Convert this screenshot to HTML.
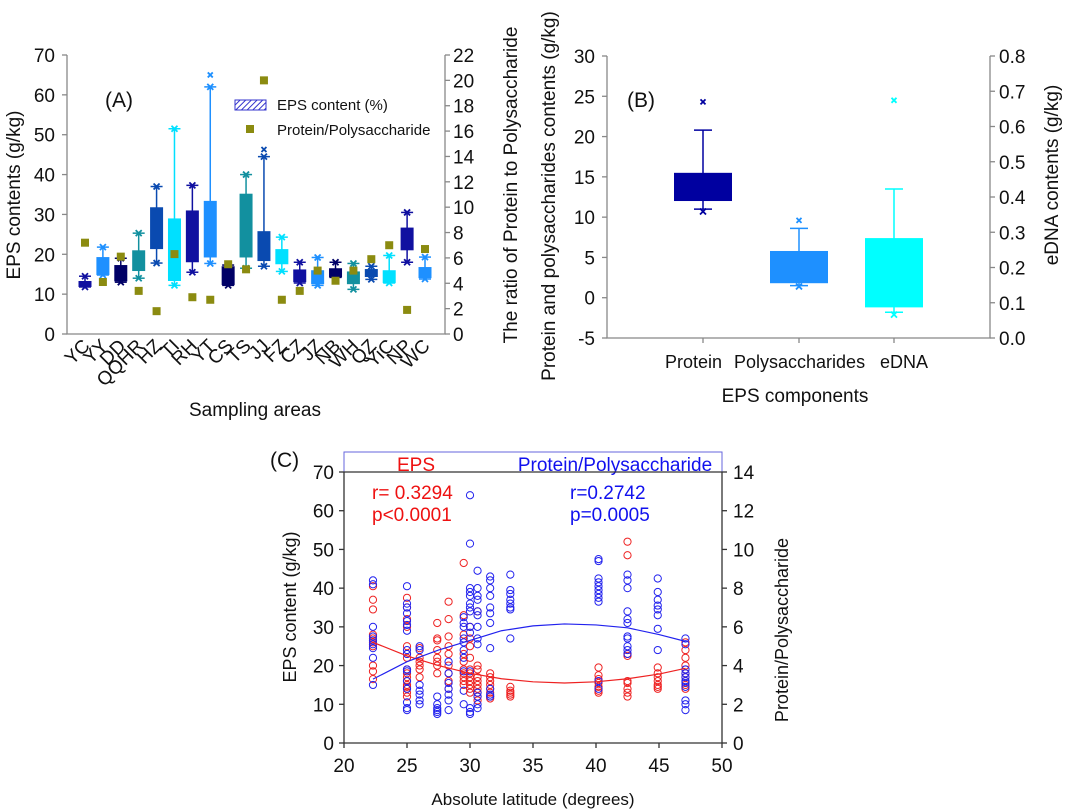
<!DOCTYPE html>
<html><head><meta charset="utf-8"><style>
body{margin:0;background:#fff}
svg{display:block;font-family:"Liberation Sans",Arial,sans-serif}
</style></head><body>
<svg id="fig" width="1080" height="811" viewBox="0 0 1080 811" xmlns="http://www.w3.org/2000/svg">
<defs><pattern id="hatch" width="4" height="4" patternUnits="userSpaceOnUse" patternTransform="rotate(45)"><rect width="4" height="4" fill="#fff"/><line x1="0" y1="0" x2="0" y2="4" stroke="#3333cc" stroke-width="2"/></pattern></defs>
</svg>
<script>
// ---------- Panel A data ----------
const aCats=["YC","YY","DD","QQHR","HZ","TI","RH","YT","CS","TS","JJ","FZ","CZ","JZ","NB","WH","QZ","YiC","NP","WC"];
const aQ1=[11.8,14.8,13.2,15.8,21.3,13.3,18,19.2,12.3,19.2,18.3,17.5,13,12.5,14.2,12.5,14.3,12.8,21,14];
const aQ3=[13.3,19.3,17.3,21,31.8,29,31,33.4,17,35.2,25.8,21.3,16.2,16,16.5,15.7,16.3,16,26.7,16.8];
const aLo=[11.8,14.8,13,14,17.8,12.2,15.5,17.7,12.2,16.5,17,15.7,12.8,12.2,14.2,11.2,13.7,12.8,18,13.8];
const aHi=[14.5,21.8,19,25.3,37,51.5,37.3,62,17.3,40,44.5,24.3,18,19.2,18,17.7,17,19.7,30.5,19.3];
const aOut=[null,null,null,null,null,null,null,65,null,null,46.3,null,null,null,null,null,null,null,null,null];
const aRatio=[7.2,4.1,6.1,3.4,1.8,6.3,2.9,2.7,5.5,5.1,20,2.7,3.4,5,4.2,5,5.9,7,1.9,6.7];
const aColors=["#1010a0","#1e90ff","#000066","#12909f","#0a4ab0","#00e0ff"];
const aYTicks=[0,10,20,30,40,50,60,70];
const aY2Ticks=[0,2,4,6,8,10,12,14,16,18,20,22];
// ---------- Panel B data ----------
const bCats=["Protein","Polysaccharides","eDNA"];
const bQ1=[12,1.8,-1.2],bQ3=[15.5,5.8,7.4],bLo=[11,1.5,-1.8],bHi=[20.8,8.6,13.5],bOut=[24.3,9.6,24.5],bMin=[10.7,1.4,-2.1];
const bColors=["#0000a0","#1e90ff","#00ffff"];
const bYTicks=[-5,0,5,10,15,20,25,30];
const bY2Ticks=["0.0","0.1","0.2","0.3","0.4","0.5","0.6","0.7","0.8"];
// ---------- Panel C data ----------
const cLat=[22.3,25,26,27.4,28.3,29.5,30,30.6,31.6,33.2,40.2,42.5,44.9,47.1];
const cEPS=[[40.5,37,34.5,28,27,26,25,20,18.5,16.5],[37.5,35,32,30,25,23,22,19,18,17,16,15,14.5,14,13,12],[24.5,22,21,20,19,17],[31,27,26.5,24,22,21,20,18],[36.5,32,27.5,25,23,20,18,16,14],[46.5,33,28,23,21,19,18,17,16,15],[30,27,25,22,19,18,17,16,15,14,13],[34,20,19,17,16,15,14,13,12,11],[18,17,16,15,14,13,12,11.5],[14.5,13.5,13,12.5,12],[19.5,17.5,16.5,15.5,14.5,13.5,13],[52,48.5,23,22.5,16,15.5,14,13,12],[19.5,18,17,16,15,14.5,14],[26,24,22,20,19,18,17,16,15,14]];
const cRatio=[[8.4,8.2,6,5.5,5.3,5.1,4.9,4.4,3],[8.1,7.2,7,6.7,6.3,6.1,5.8,4.8,4.6,3.8,3.7,3.2,2.8,2.1,1.8,1.7],[5,4.8,3,2.7,2.5,2.2,2],[2.4,2,1.8,1.7,1.6,1.5],[4.2,3.6,3.1,2.8,2.5,2.2,1.7],[6.5,6.2,6,5.4,5.2,4.8,4.4,3.7,2.7,2],[12.8,10.3,8,7.8,7.6,7.2,7,6.8,6,5.7,3.7,1.8,1.6,1.5],[8.9,8,7.6,7.4,6.8,6.6,6,5.4,5.1,2.6,2.4,2,1.8],[8.6,8.4,8,7.6,7,6.7,6.2,4.9,2.8,2.5,2.4],[8.7,7.9,7.7,7.4,7.2,7,6.9,5.4],[9.5,9.4,8.5,8.3,8.1,7.9,7.7,7.5,7.3,3.2,2.8],[8.7,8.4,8,6.8,6.4,6.2,5.5,5.4,5,4.8,4.6],[8.5,7.8,7.4,7.1,6.9,6.6,5.9,4.8],[5.4,5.1,3.8,3.6,3.4,3.2,3.1,2.9,2.2,2,1.7]];
const fitLat=[22.3,25,27.5,30,32.5,35,37.5,40,42.5,45,47.1];
const fitEPS=[26,22.5,20,18,16.6,15.8,15.5,15.8,16.6,17.8,19.3];
const fitRatio=[3.3,4.2,4.8,5.3,5.8,6.05,6.15,6.1,5.95,5.6,5.25];
const cXTicks=[20,25,30,35,40,45,50];
const cYTicks=[0,10,20,30,40,50,60,70];
const cY2Ticks=[0,2,4,6,8,10,12,14];

const svg=document.getElementById('fig');
const NS="http://www.w3.org/2000/svg";
const TK=19, TT=19;
function mk(tag,attrs,parent){const e=document.createElementNS(NS,tag);for(const k in attrs)e.setAttribute(k,attrs[k]);(parent||svg).appendChild(e);return e;}
function txt(s,x,y,size,attrs,parent){const e=mk('text',Object.assign({x:x,y:y,'font-size':size,fill:'#111'},attrs||{}),parent);e.textContent=s;return e;}
function line(x1,y1,x2,y2,c,w,parent){return mk('line',{x1:x1,y1:y1,x2:x2,y2:y2,stroke:c,'stroke-width':w||1},parent);}
function xmark(x,y,c,s,parent){const g=mk('g',{},parent);line(x-s,y-s,x+s,y+s,c,1.8,g);line(x-s,y+s,x+s,y-s,c,1.8,g);return g;}

// ===== Panel A =====
const A={l:67,r:445,t:55,b:334};
const ay=v=>A.b-(v/70)*(A.b-A.t);
const ay2=v=>A.b-(v/22)*(A.b-A.t);
const ax=i=>85+i*(340/19);
const gA=mk('g',{});


mk('path',{d:`M${A.l} ${A.t}V${A.b}H${A.r}V${A.t}`,fill:'none',stroke:'#888','stroke-width':1.3},gA);
aYTicks.forEach(v=>{line(A.l-5,ay(v),A.l,ay(v),'#888',1.3,gA);const t=txt(String(v),A.l-12,ay(v)+7,TK,{'text-anchor':'end'},gA);});
aY2Ticks.forEach(v=>{line(A.r,ay2(v),A.r+5,ay2(v),'#888',1.3,gA);const t=txt(String(v),A.r+8,ay2(v)+7,TK,{},gA);});
aCats.forEach((c,i)=>{
  const x=ax(i),col=aColors[i%6];
  const g=mk('g',{},gA);
  
  
  line(x,ay(aLo[i]),x,ay(aHi[i]),col,1.5,g);
  line(x-6,ay(aHi[i]),x+6,ay(aHi[i]),col,1.5,g);
  line(x-6,ay(aLo[i]),x+6,ay(aLo[i]),col,1.5,g);
  xmark(x,ay(aHi[i]),col,3,g);xmark(x,ay(aLo[i]),col,3,g);
  mk('rect',{x:x-6.5,y:ay(aQ3[i]),width:13,height:ay(aQ1[i])-ay(aQ3[i]),fill:col},g);
  if(aOut[i]!==null)xmark(x,ay(aOut[i]),col,2.5,g);
  const sq=mk('rect',{x:x-4,y:ay2(aRatio[i])-4,width:8,height:8,fill:'#8b8b10'},gA);
  
  
  const t=txt(c,x+6,347,TK,{'text-anchor':'end',transform:`rotate(-45 ${x+6} 347)`},gA);
  
});
let t;
t=txt('(A)',105,107,21,{},gA);
const lg=mk('g',{},gA);
mk('rect',{x:235,y:100,width:31,height:10,fill:'url(#hatch)',stroke:'#3333cc'},lg);
txt('EPS content (%)',277,110,15,{},lg);
mk('rect',{x:246,y:125,width:8,height:8,fill:'#8b8b10'},lg);
txt('Protein/Polysaccharide',277,135,15,{},lg);
t=txt('EPS contents (g/kg)',20,195,TT,{'text-anchor':'middle',transform:'rotate(-90 20 195)'},gA);
t=txt('The ratio of Protein to Polysaccharide',517,185,TT,{'text-anchor':'middle',transform:'rotate(-90 517 185)'},gA);
t=txt('Sampling areas',255,416,TT,{'text-anchor':'middle'},gA);

// ===== Panel B =====
const B={l:607,r:990,t:56,b:338};
const by=v=>B.b-((v+5)/35)*(B.b-B.t);
const gB=mk('g',{});


mk('path',{d:`M${B.l} ${B.t}V${B.b}H${B.r}V${B.t}`,fill:'none',stroke:'#888','stroke-width':1.3},gB);
bYTicks.forEach(v=>{line(B.l-5,by(v),B.l,by(v),'#888',1.3,gB);const t=txt(String(v),B.l-12,by(v)+7,TK,{'text-anchor':'end'},gB);});
bY2Ticks.forEach((s,i)=>{const y=B.b-i*(B.b-B.t)/8;line(B.r,y,B.r+5,y,'#888',1.3,gB);const t=txt(s,B.r+9,y+7,TK,{},gB);});
const bx=[703,799,894];
bCats.forEach((c,i)=>{
  const x=bx[i],col=bColors[i];
  const g=mk('g',{},gB);
  
  
  line(x,by(bLo[i]),x,by(bHi[i]),col,1.5,g);
  line(x-9,by(bHi[i]),x+9,by(bHi[i]),col,1.5,g);
  line(x-9,by(bLo[i]),x+9,by(bLo[i]),col,1.5,g);
  mk('rect',{x:x-29,y:by(bQ3[i]),width:58,height:by(bQ1[i])-by(bQ3[i]),fill:col},g);
  xmark(x,by(bOut[i]),col,2.5,g);xmark(x,by(bMin[i]),col,3,g);
  line(x,B.b,x,B.b+5,'#888',1.3,gB);
});
t=txt('Protein',665,368,18,{},gB);
t=txt('Polysaccharides',734,368,18,{},gB);
t=txt('eDNA',880,368,18,{},gB);
t=txt('(B)',627,107,21,{},gB);
t=txt('Protein and polysaccharides contents (g/kg)',555,196,TT,{'text-anchor':'middle',transform:'rotate(-90 555 196)'},gB);
t=txt('eDNA contents (g/kg)',1058,175,TT,{'text-anchor':'middle',transform:'rotate(-90 1058 175)'},gB);
t=txt('EPS components',795,402,TT,{'text-anchor':'middle'},gB);

// ===== Panel C =====
const C={l:344,r:722,t:472,b:743};
const cx=v=>C.l+(v-20)/30*(C.r-C.l);
const cy=v=>C.b-(v/70)*(C.b-C.t);
const cy2=v=>C.b-(v/14)*(C.b-C.t);
const gC=mk('g',{});


const hdr=mk('rect',{x:C.l,y:452,width:C.r-C.l,height:20,fill:'#fff',stroke:'#6666dd','stroke-width':1},gC);

txt('EPS',416,471,19,{'text-anchor':'middle',fill:'#ee1111'},gC);
txt('Protein/Polysaccharide',615,471,19,{'text-anchor':'middle',fill:'#1111ee'},gC);
mk('path',{d:`M${C.l} ${C.t}V${C.b}H${C.r}V${C.t}`,fill:'none',stroke:'#333','stroke-width':1.3},gC);
line(C.l,C.t,C.r,C.t,'#333',1.3,gC);
cYTicks.forEach(v=>{line(C.l-5,cy(v),C.l,cy(v),'#333',1.3,gC);const t=txt(String(v),C.l-10,cy(v)+7,TK,{'text-anchor':'end'},gC);});
cY2Ticks.forEach(v=>{line(C.r,cy2(v),C.r+5,cy2(v),'#333',1.3,gC);const t=txt(String(v),C.r+11,cy2(v)+7,TK,{},gC);});
cXTicks.forEach(v=>{line(cx(v),C.b,cx(v),C.b+5,'#333',1.3,gC);const t=txt(String(v),cx(v),772,TK,{'text-anchor':'middle'},gC);});
cLat.forEach((lat,i)=>{
  cEPS[i].forEach(v=>{const c=mk('circle',{cx:cx(lat),cy:cy(v),r:3.6,fill:'none',stroke:'#ee2222','stroke-width':1},gC);});
  cRatio[i].forEach(v=>{const c=mk('circle',{cx:cx(lat),cy:cy2(v),r:3.6,fill:'none',stroke:'#2222ee','stroke-width':1},gC);});
});
let pe=mk('polyline',{points:fitLat.map((l,i)=>cx(l)+','+cy(fitEPS[i])).join(' '),fill:'none',stroke:'#ee2222','stroke-width':1.2},gC);

let pr=mk('polyline',{points:fitLat.map((l,i)=>cx(l)+','+cy2(fitRatio[i])).join(' '),fill:'none',stroke:'#2222ee','stroke-width':1.2},gC);

txt('r= 0.3294',372,499,19,{fill:'#ee1111'},gC);
txt('p<0.0001',372,521,19,{fill:'#ee1111'},gC);
txt('r=0.2742',570,499,19,{fill:'#1111ee'},gC);
txt('p=0.0005',570,521,19,{fill:'#1111ee'},gC);
t=txt('(C)',270,467,21,{},gC);
t=txt('EPS content (g/kg)',296,607,18,{'text-anchor':'middle',transform:'rotate(-90 296 607)'},gC);
t=txt('Protein/Polysaccharide',788,630,18,{'text-anchor':'middle',transform:'rotate(-90 788 630)'},gC);
t=txt('Absolute latitude (degrees)',533,805,17,{'text-anchor':'middle'},gC);
</script>
</body></html>
